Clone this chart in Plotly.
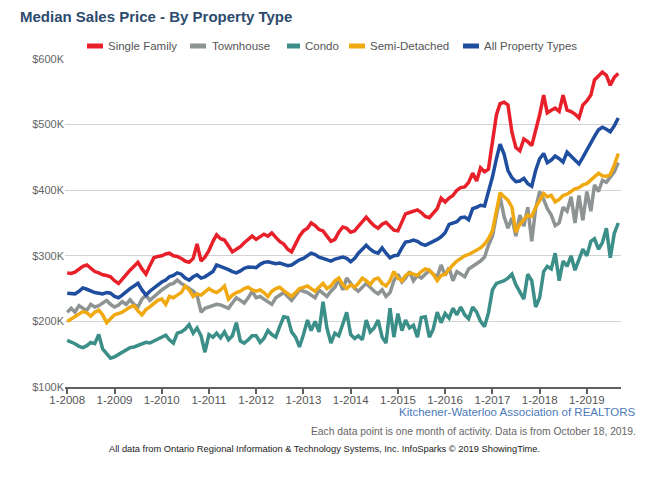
import pandas as pd
import plotly.graph_objects as go

# ---------------- data (values in $K, monthly Jan-2008 .. Sep-2019) ----------------
months = pd.date_range("2008-01-01", periods=141, freq="MS")

single_family = [
    274, 273, 275, 279, 284, 286, 281, 276, 274, 271, 270, 268,   # 2008
    262, 258, 264, 272, 278, 284, 290, 280, 272, 285, 297, 299,   # 2009
    300, 303, 304, 300, 299, 296, 292, 290, 296, 318, 292, 298,   # 2010
    308, 322, 332, 326, 324, 315, 306, 310, 314, 320, 326, 330,   # 2011
    325, 330, 333, 330, 335, 328, 322, 318, 310, 306, 318, 330,   # 2012
    338, 342, 350, 346, 340, 338, 330, 322, 325, 336, 344, 342,   # 2013
    336, 338, 345, 352, 359, 352, 346, 342, 348, 351, 344, 339,   # 2014
    338, 352, 364, 366, 368, 370, 366, 360, 358, 364, 372, 388,   # 2015
    382, 388, 392, 400, 404, 405, 412, 426, 414, 434, 428, 432,   # 2016
    470, 515, 532, 534, 530, 488, 465, 460, 478, 474, 468, 490,   # 2017
    515, 545, 518, 522, 525, 520, 545, 522, 520, 516, 510, 530,   # 2018
    536, 545, 568, 574, 580, 575, 560, 572, 578,                  # 2019
]

townhouse = [
    214, 220, 214, 224, 220, 217, 226, 222, 224, 228, 232, 226,
    222, 225, 230, 226, 233, 226, 222, 234, 240, 232, 238, 242,
    248, 252, 256, 258, 263, 258, 254, 250, 246, 240, 214, 220,
    222, 224, 226, 225, 222, 220, 228, 236, 232, 228, 236, 246,
    236, 238, 234, 230, 226, 236, 240, 244, 238, 232, 240, 248,
    246, 244, 240, 236, 248, 242, 238, 246, 252, 264, 248, 266,
    258, 250, 246, 252, 258, 252, 246, 242, 248, 238, 244, 262,
    272, 260, 266, 276, 262, 270, 266, 272, 278, 272, 268, 286,
    270, 282, 262, 276, 272, 268, 280, 284, 288, 292, 298, 316,
    330, 360, 390, 360, 342, 358, 330, 362, 345, 374, 322, 372,
    398, 386, 372, 362, 346, 350, 374, 368, 390, 350, 392, 354,
    398, 368, 408, 398, 415, 412, 420, 428, 442,
]

condo = [
    171, 169, 166, 162, 160, 163, 168, 166, 180, 158, 150, 144,
    146, 150, 153, 156, 160, 161, 163, 166, 168, 167, 170, 174,
    176, 179, 172, 167, 182, 184, 188, 195, 182, 190, 178, 153,
    180, 176, 182, 175, 184, 172, 178, 198, 170, 167, 172, 178,
    178, 168, 174, 186, 180, 176, 192, 207, 206, 184, 176, 161,
    180, 202, 186, 200, 184, 230, 190, 167, 182, 178, 196, 214,
    180, 174, 178, 172, 202, 184, 190, 202, 176, 167, 220, 176,
    212, 186, 202, 190, 194, 176, 206, 207, 176, 188, 214, 198,
    212, 205, 220, 210, 222, 210, 204, 222, 214, 200, 192, 213,
    248, 258, 260, 262, 266, 272, 256, 246, 234, 272, 262, 222,
    236, 276, 284, 280, 304, 262, 292, 284, 300, 278, 296, 310,
    300, 322, 326, 310, 320, 342, 297, 334, 350,
]

semi_detached = [
    200, 204, 208, 212, 215, 213, 208, 214, 217, 210, 198, 204,
    210, 212, 214, 218, 222, 224, 216, 210, 218, 222, 228, 232,
    234, 226, 238, 236, 240, 244, 254, 248, 238, 242, 240, 245,
    250, 246, 244, 248, 254, 234, 240, 244, 246, 250, 252, 248,
    246, 248, 244, 238, 246, 250, 252, 247, 243, 238, 244, 250,
    252, 254, 250, 246, 252, 258, 250, 254, 262, 266, 256, 250,
    256, 252, 258, 266, 262, 256, 264, 266, 258, 254, 262, 276,
    266, 262, 270, 274, 272, 270, 276, 280, 278, 272, 262, 270,
    272, 280, 286, 292, 296, 300, 302, 305, 308, 312, 318, 326,
    338, 372, 396, 390, 385, 374, 336, 348, 356, 362, 360, 374,
    384, 395, 390, 392, 382, 386, 392, 394, 398, 402, 404, 408,
    410, 416, 420, 426, 422, 421, 424, 438, 456,
]

all_types = [
    243, 243, 242, 246, 251, 249, 246, 244, 243, 242, 244, 243,
    238, 236, 240, 246, 250, 254, 258, 248, 240, 246, 251, 256,
    260, 263, 268, 270, 274, 272, 266, 263, 268, 271, 266, 268,
    272, 276, 286, 284, 282, 279, 276, 274, 277, 281, 283, 282,
    282, 287, 290, 291, 290, 288, 289, 287, 285, 286, 290, 294,
    296, 300, 304, 302, 298, 296, 294, 292, 295, 297, 298, 296,
    291, 296, 304, 310, 316, 310, 306, 304, 312, 304, 297, 300,
    301, 312, 321, 322, 324, 322, 318, 316, 319, 321, 325, 329,
    335, 348, 350, 352, 358, 359, 355, 372, 374, 377, 376, 398,
    420, 448, 470, 455, 430, 419, 413, 414, 418, 410, 406, 430,
    448, 456, 442, 446, 452, 448, 443, 458, 452, 445, 440, 450,
    462, 472, 482, 492, 496, 493, 489, 498, 510,
]

series_names = ["Single Family", "Townhouse", "Condo", "Semi-Detached", "All Property Types"]
series_values = [single_family, townhouse, condo, semi_detached, all_types]
series_colors = ["#e8202a", "#8e9393", "#3b8f88", "#f0a911", "#1f4e9e"]

y_tick_vals = [100000, 200000, 300000, 400000, 500000, 600000]
y_tick_text = ["$100K", "$200K", "$300K", "$400K", "$500K", "$600K"]
x_tick_vals = pd.date_range("2008-01-01", "2019-01-01", freq="YS")
x_tick_text = ["1-2008", "1-2009", "1-2010", "1-2011", "1-2012", "1-2013",
               "1-2014", "1-2015", "1-2016", "1-2017", "1-2018", "1-2019"]

# ---------------- layout geometry (page pixels; page body has 8px margin) ----------------
FONT = "Liberation Sans, Arial, sans-serif"
OFF = 8
W, H = 650 - OFF, 485 - OFF
L, T = 65 - OFF, 59 - OFF
R = W - (621 - OFF)
B = H - (387 - OFF)
PW, PH = W - L - R, H - T - B


def fx(page_x):
    return (page_x - OFF - L) / PW


def fy(page_y):
    return (H - B - (page_y - OFF)) / PH


fig = go.Figure()
for name, vals, color in zip(series_names, series_values, series_colors):
    fig.add_trace(go.Scatter(
        x=months, y=[v * 1000 for v in vals], mode="lines", name=name,
        line=dict(color=color, width=3.5), showlegend=False,
    ))

fig.update_layout(
    width=W, height=H, autosize=False,
    margin=dict(l=L, r=R, t=T, b=B, pad=0),
    paper_bgcolor="white", plot_bgcolor="white",
    font=dict(family=FONT, size=11, color="#555555"),
    title=dict(
        text="<b>Median Sales Price - By Property Type</b>",
        x=(20 - OFF) / W, xanchor="left", xref="container",
        y=1 - (17 - OFF) / H, yanchor="middle", yref="container",
        font=dict(family=FONT, size=15, color="#2d4b6e"),
    ),
)

fig.update_xaxes(
    type="date", range=["2007-12-15", "2019-09-22"],
    tickvals=x_tick_vals, ticktext=x_tick_text,
    showgrid=False, zeroline=False,
    showline=True, linecolor="#5f5f5f", linewidth=2,
    ticks="outside", ticklen=5, tickwidth=1.5, tickcolor="#5f5f5f",
    ticklabelstandoff=-4,
    tickfont=dict(family=FONT, size=11.5, color="#555555"),
)
fig.update_yaxes(
    range=[100000, 600000], tickvals=y_tick_vals, ticktext=y_tick_text,
    showgrid=True, gridcolor="#d2d2d2", gridwidth=1,
    zeroline=False, showline=False, ticks="",
    tickfont=dict(family=FONT, size=11, color="#666666"),
)

# legend drawn as swatches + labels (page-pixel placement)
legend_swatch_x = [(87, 103), (190, 206), (287, 300), (349, 365), (463, 479)]
legend_text_x = [106, 210, 303, 368, 482]
legend_y = 46
for name, color, (sx0, sx1), tx in zip(series_names, series_colors, legend_swatch_x, legend_text_x):
    fig.add_shape(
        type="line", xref="paper", yref="paper",
        x0=fx(sx0), x1=fx(sx1), y0=fy(legend_y), y1=fy(legend_y),
        line=dict(color=color, width=5),
    )
    fig.add_annotation(
        text=name, xref="paper", yref="paper", x=fx(tx), y=fy(legend_y),
        xanchor="left", yanchor="middle", showarrow=False,
        font=dict(family=FONT, size=11.5, color="#555555"),
    )

fig.add_annotation(
    text="Kitchener-Waterloo Association of REALTORS",
    xref="paper", yref="paper", x=fx(638), y=fy(412),
    xanchor="right", yanchor="middle", showarrow=False,
    font=dict(family=FONT, size=11.5, color="#4d7ab8"),
)
fig.add_annotation(
    text="Each data point is one month of activity. Data is from October 18, 2019.",
    xref="paper", yref="paper", x=fx(638), y=fy(431),
    xanchor="right", yanchor="middle", showarrow=False,
    font=dict(family=FONT, size=10.3, color="#666666"),
)
fig.add_annotation(
    text="All data from Ontario Regional Information &amp; Technology Systems, Inc. InfoSparks © 2019 ShowingTime.",
    xref="paper", yref="paper", x=fx(324), y=fy(449),
    xanchor="center", yanchor="middle", showarrow=False,
    font=dict(family=FONT, size=9.3, color="#222222"),
)

fig.write_html("out.html")
